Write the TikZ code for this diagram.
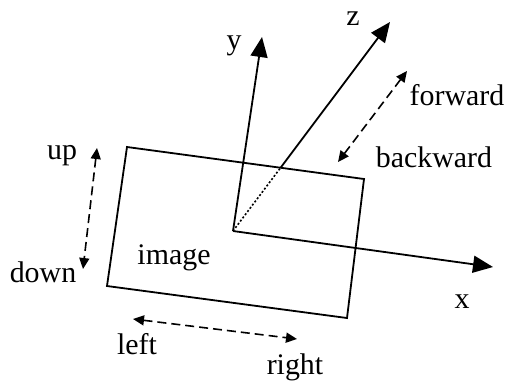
\documentclass[tikz,border=0pt]{standalone}
\usepackage{fontspec}
\setmainfont{Liberation Serif}
\usetikzlibrary{arrows.meta,calc}
\tikzset{ax/.style={line width=1.8bp,-{Triangle[length=20bp,width=17bp]}},
 mv/.style={line width=1.6bp,dash pattern=on 9bp off 5bp,{Triangle[length=11bp,width=10bp]}-{Triangle[length=11bp,width=10bp]}},
 lbl/.style={inner sep=0pt,font=\fontsize{30}{35}\selectfont}}
\begin{document}
\begin{tikzpicture}[x=1bp,y=-1bp]
\useasboundingbox (0,0) rectangle (508,385);
% image plane
\coordinate (tl) at (127,147);\coordinate (tr) at (364,179);
\coordinate (br) at (347,318);\coordinate (bl) at (107,286);
\draw[line width=1.8bp] (tl)--(tr)--(br)--(bl)--cycle;
% axes
\coordinate (o) at (233,231);
\coordinate (xe) at (493,267);\coordinate (ye) at (262,37);\coordinate (ze) at (390,22);
\coordinate (zc) at (intersection of o--ze and tl--tr);
\draw[ax] (o)--(xe);\draw[ax] (o)--(ye);
\draw[line width=1.6bp,dash pattern=on 2bp off 2bp] (o)--(zc);
\draw[ax] (zc)--(ze);
\node[lbl] (xl) at (462,302) {x};
\node[lbl] (yl) at (234,46) {y};
\node[lbl] (zl) at (353,19) {z};
\node[lbl] (img) at (174,258) {image};
% motions
\coordinate (u1) at (97,148);\coordinate (d1) at (83,269);
\coordinate (l1) at (133,319);\coordinate (r1) at (297,339);
\coordinate (f1) at (407,71);\coordinate (b1) at (338,162);
\draw[mv] (u1)--(d1);\draw[mv] (l1)--(r1);\draw[mv] (f1)--(b1);
\node[lbl] (up) at (62,156) {up};
\node[lbl] (dn) at (43,272) {down};
\node[lbl] (lf) at (137,344) {left};
\node[lbl] (rt) at (295,367) {right};
\node[lbl] (fw) at (457,95) {forward};
\node[lbl] (bw) at (434,157) {backward};
\end{tikzpicture}
\end{document}
